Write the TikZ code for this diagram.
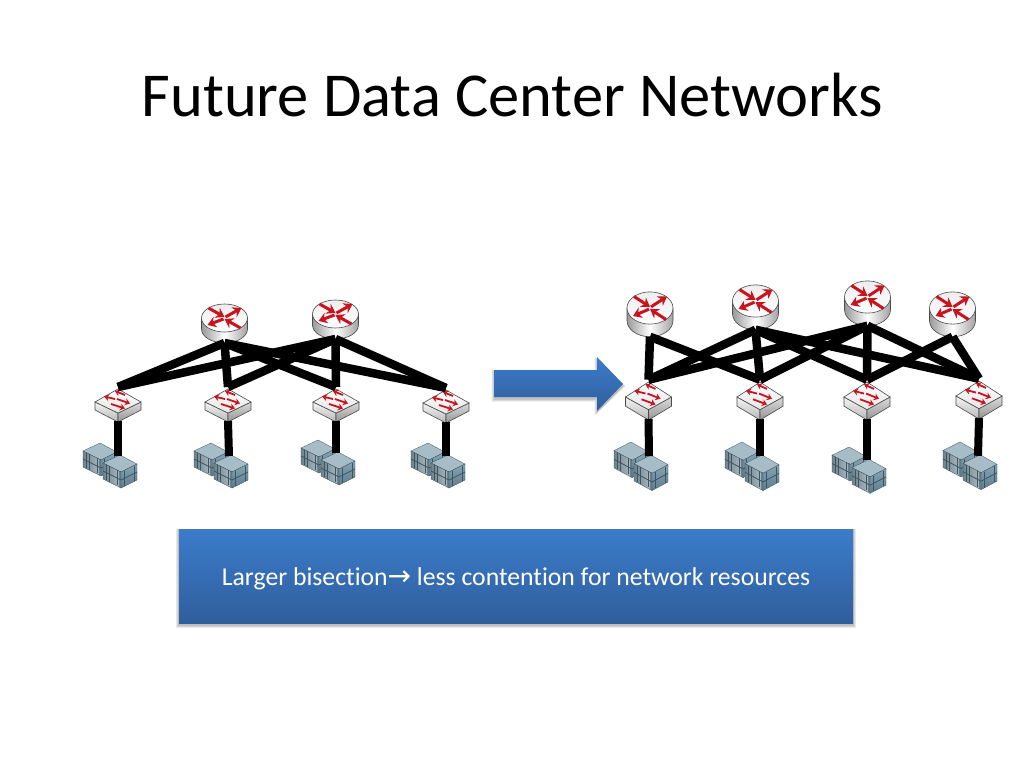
\documentclass[tikz,border=0pt]{standalone}
\usepackage{fontspec}
\setmainfont[Ligatures=NoCommon]{Carlito}
\newfontfamily\arrowfont{DejaVu Sans}
\usetikzlibrary{arrows.meta}
\definecolor{glyphred}{HTML}{C8141E}
\definecolor{edgegrey}{HTML}{4A4A4A}
\definecolor{boxtop}{HTML}{3B7CCB}
\definecolor{boxbot}{HTML}{305E9C}
\definecolor{srvtop}{HTML}{A6BCC6}
\definecolor{srvleft}{HTML}{8AA3AF}
\definecolor{srvright}{HTML}{6F93A7}
\definecolor{srvdark}{HTML}{3E5560}
\newcommand{\srvbox}[2]{%
  \begin{scope}[shift={(#1,#2)}]
    \fill[srvtop,draw=srvdark,line width=.3pt] (0,0) -- (17,9) -- (1,17) -- (-17,8) -- cycle;
    \shade[left color=srvleft!80!black,right color=srvleft!70!white,draw=srvdark,line width=.3pt] (-17,8) -- (1,17) -- (1,33) -- (-17,24) -- cycle;
    \shade[top color=srvright!85!white,bottom color=srvright!85!black,draw=srvdark,line width=.3pt] (1,17) -- (17,9) -- (17,25) -- (1,33) -- cycle;
    \draw[srvdark,line width=.8pt] (-17,16) -- (1,25) -- (17,17);
    \draw[srvdark,line width=.6pt] (-14,10) -- (-14,25) (-11,11) -- (-11,27) (-3,15) -- (-3,30) (4,16) -- (4,31) (14,11) -- (14,26);
    \fill[srvdark,opacity=.55] (-1,16) rectangle (1,32);
  \end{scope}}
\tikzset{
  x=1pt,y=-1pt,
  router/.pic={
    \shade[left color=black!40,right color=black!36,middle color=white,draw=edgegrey,line width=.6pt]
      (-23,0) -- (-23,11) arc[start angle=180,end angle=0,x radius=23,y radius=14] -- (23,0) -- cycle;
    \shade[top color=black!7,bottom color=white,draw=edgegrey,line width=.6pt] (0,0) ellipse [x radius=23,y radius=14];
    \draw[glyphline] (-16,-10) -- (0,-1);
    \draw[glyphline] (1,-1) -- (17,-10);
    \draw[glyphline] (-1,1) -- (-17,7);
    \draw[glyphline] (16,10) -- (0,1);
    \coordinate (-b) at (0,25);
  },
  switch/.pic={
    \shade[top color=black!4,bottom color=black!28,draw=edgegrey,line width=.6pt]
      (-23,0) -- (-23,8) -- (0,20) -- (0,11) -- cycle;
    \shade[top color=black!14,bottom color=black!42,draw=edgegrey,line width=.6pt]
      (0,11) -- (0,20) -- (23,8) -- (23,0) -- cycle;
    \shade[top color=white,bottom color=black!10,draw=edgegrey,line width=.6pt]
      (0,-13) -- (23,0) -- (0,11) -- (-23,0) -- cycle;
    \draw[switchline] (7,-7) -- (-3,-11);
    \draw[switchline] (-3,-3) -- (-14,-5.5);
    \draw[switchline] (-1,-3) -- (12,1.5);
    \draw[switchline] (-7,2) -- (7,6.5);
    \coordinate (-t) at (0,-15);
    \coordinate (-b) at (0,19);
  },
  server/.pic={
    \srvbox{-18}{0}
    \srvbox{2}{12}
    \coordinate (-t) at (0,13);
  },
  glyphline/.style={glyphred,line width=3pt,-{Stealth[length=8.5pt,width=11pt]}},
  switchline/.style={glyphred,line width=1.8pt,-{Stealth[length=5pt,width=7pt]}},
  link/.style={black,line width=8pt},
  uplink/.style={black,line width=8.5pt},
  rightnet/.style={yscale=1.15},
  softshadow/.style={black,opacity=.09},
}
\begin{document}
\begin{tikzpicture}
\fill[white] (0,0) rectangle (1024,768);
\path[use as bounding box] (0,0) rectangle (1024,768);

\node[font=\fontsize{62.5}{70}\selectfont,anchor=base] (title) at (512,116) {Future Data Center Networks};

% left network
\pic (lr1) at (224.5,318) {router};
\pic (lr2) at (335.5,314) {router};
\pic (ls1) at (118,402) {switch};
\pic (ls2) at (228,402) {switch};
\pic (ls3) at (336,402) {switch};
\pic (ls4) at (446,403) {switch};
\pic (lh1) at (118,443) {server};
\pic (lh2) at (229,443) {server};
\pic (lh3) at (336,440) {server};
\pic (lh4) at (446,443) {server};
\foreach \r in {lr1,lr2}\foreach \s in {ls1,ls2,ls3,ls4}
  \draw[uplink] (\r-b) -- (\s-t);
\foreach \i in {1,2,3,4}
  \draw[link] (ls\i-b) -- (lh\i-t);

% arrow
\foreach \d in {2.5,1.5,.5}
  \fill[softshadow] (494-\d,370-\d+2) -- (597-\d,370-\d+2) -- (597-\d,357-\d+2) -- (623+\d,384+2) -- (597-\d,411+\d+2) -- (597-\d,397+\d+2) -- (494-\d,397+\d+2) -- cycle;
\shade[top color=boxtop,bottom color=boxbot] (494,370) -- (597,370) -- (597,357) -- (623,384) -- (597,411) -- (597,397) -- (494,397) -- cycle;

% right network
\pic[rightnet] (rr1) at (650,308) {router};
\pic[rightnet] (rr2) at (755.5,301) {router};
\pic[rightnet] (rr3) at (867.5,297) {router};
\pic[rightnet] (rr4) at (952.5,308) {router};
\pic[rightnet] (rs1) at (648.5,397) {switch};
\pic[rightnet] (rs2) at (760,397) {switch};
\pic[rightnet] (rs3) at (867,397) {switch};
\pic[rightnet] (rs4) at (979,396) {switch};
\pic[yscale=1.08] (rh1) at (649,442) {server};
\pic[yscale=1.08] (rh2) at (760,442) {server};
\pic[yscale=1.03] (rh3) at (867,447) {server};
\pic[yscale=1.06] (rh4) at (978,442) {server};
\foreach \r/\s in {rr1/rs1,rr1/rs2,rr2/rs1,rr2/rs2,rr2/rs3,rr2/rs4,rr3/rs1,rr3/rs2,rr3/rs3,rr3/rs4,rr4/rs3,rr4/rs4}
  \draw[uplink] (\r-b) -- (\s-t);
\foreach \i in {1,2,3,4}
  \draw[link] (rs\i-b) -- (rh\i-t);

% message box
\foreach \d in {3,2,1}
  \fill[softshadow] (179-\d,529) rectangle (853+\d,623+\d+1.5);
\node[minimum width=674pt,minimum height=94pt,inner sep=0pt,top color=boxtop,bottom color=boxbot,
      text=white,font=\fontsize{25.7}{28}\selectfont] (msg) at (516,576)
  {\raisebox{-9pt}[0pt][0pt]{Larger bisection{\arrowfont\fontsize{28}{28}\selectfont→} less contention for network resources}};
\end{tikzpicture}
\end{document}
